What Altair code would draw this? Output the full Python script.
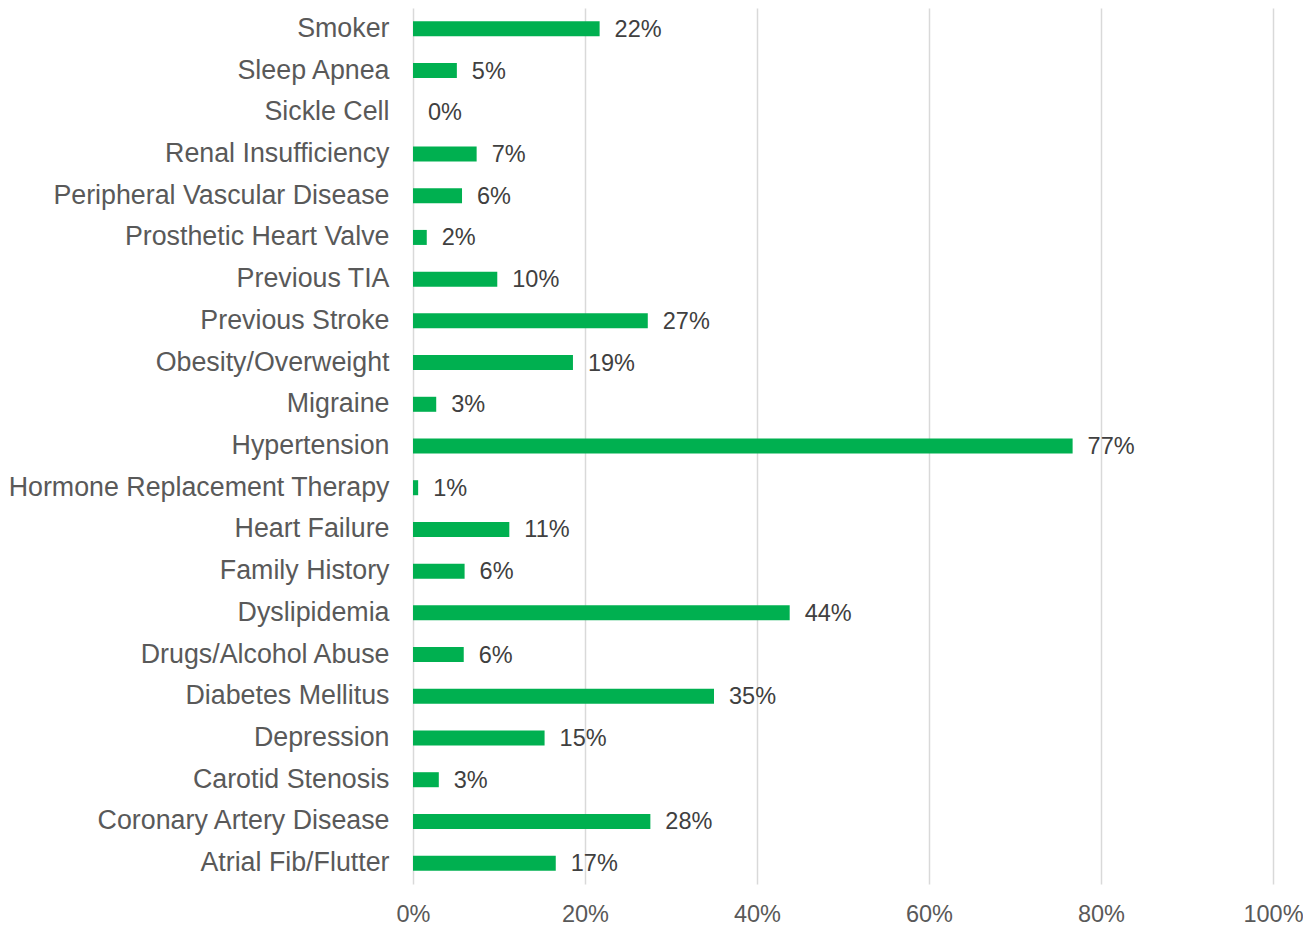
import altair as alt
import pandas as pd

categories = [
    "Smoker", "Sleep Apnea", "Sickle Cell", "Renal Insufficiency",
    "Peripheral Vascular Disease", "Prosthetic Heart Valve", "Previous TIA",
    "Previous Stroke", "Obesity/Overweight", "Migraine", "Hypertension",
    "Hormone Replacement Therapy", "Heart Failure", "Family History",
    "Dyslipidemia", "Drugs/Alcohol Abuse", "Diabetes Mellitus", "Depression",
    "Carotid Stenosis", "Coronary Artery Disease", "Atrial Fib/Flutter",
]
values = [
    0.217, 0.051, 0.0, 0.074,
    0.057, 0.016, 0.098,
    0.273, 0.186, 0.027, 0.767,
    0.006, 0.112, 0.060,
    0.438, 0.059, 0.350, 0.153,
    0.030, 0.276, 0.166,
]

df = pd.DataFrame({"category": categories, "value": values})

FONT = "Liberation Sans"

y_enc = alt.Y(
    "category:N",
    sort=categories,
    title=None,
    scale=alt.Scale(paddingInner=0.64, paddingOuter=0.32),
    axis=alt.Axis(
        domain=False, ticks=False, grid=False,
        labelFont=FONT, labelFontSize=26.8, labelColor="#595959",
        labelPadding=24, labelLimit=600,
    ),
)
x_enc = alt.X(
    "value:Q",
    title=None,
    scale=alt.Scale(domain=[0, 1], nice=False),
    axis=alt.Axis(
        values=[0, 0.2, 0.4, 0.6, 0.8, 1.0], format=".0%",
        domain=False, ticks=False, grid=True, labelFlush=False,
        gridColor="#d9d9d9", gridWidth=1.5,
        labelFont=FONT, labelFontSize=23.5, labelColor="#595959",
        labelPadding=18,
    ),
)

bars = alt.Chart(df).mark_bar(color="#00B050").encode(x=x_enc, y=y_enc)
labels = alt.Chart(df).mark_text(
    align="left", baseline="middle", dx=15, dy=1,
    font=FONT, fontSize=23.5, color="#404040",
).encode(
    x="value:Q",
    y=alt.Y("category:N", sort=categories),
    text=alt.Text("value:Q", format=".0%"),
)

chart = (
    alt.layer(bars, labels)
    .properties(
        width=860, height=876,
        autosize=alt.AutoSizeParams(type="none"),
        padding={"left": 405, "top": 0, "right": 30, "bottom": 44},
    )
    .configure_view(stroke=None)
)

chart.save("out.html", embed_options={"renderer": "svg", "actions": False})
